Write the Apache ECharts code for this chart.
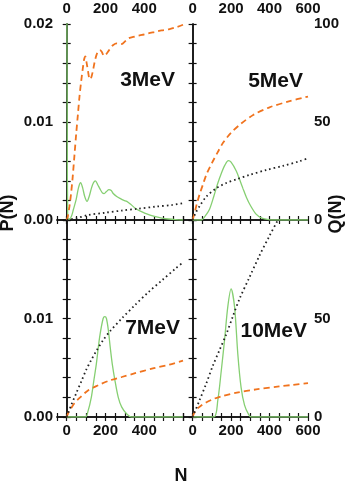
<!DOCTYPE html>
<html>
<head>
<meta charset="utf-8">
<script src="https://cdn.jsdelivr.net/npm/echarts@6/dist/echarts.min.js"></script>
<style>
  html, body { margin: 0; padding: 0; background: #fff; }
  #chart { width: 346px; height: 485px; }
</style>
</head>
<body>
<div id="chart"></div>
<script>
// panel names
var panelNames = ['3MeV', '5MeV', '7MeV', '10MeV'];

// green solid: P(N)  [N, P]
var green3 = [[0, 0.03], [3, 0.008], [5, 0.0006], [9, 0.0001], [15, 0.0001], [25, 0.0004], [35, 0.0011], [49, 0.0021], [61, 0.0033], [72, 0.0038], [82, 0.0033], [93, 0.0024], [105, 0.0019], [116, 0.0024], [127, 0.0032], [138, 0.0038], [148, 0.0040], [160, 0.0036], [171, 0.0032], [183, 0.0028], [193, 0.0027], [205, 0.0029], [218, 0.0031], [230, 0.0030], [240, 0.0027], [258, 0.0024], [275, 0.0022], [295, 0.0020], [310, 0.0019], [330, 0.0016], [354, 0.0012], [380, 0.0009], [406, 0.00068], [430, 0.0005], [458, 0.00034], [490, 0.0002], [527, 0.0001], [560, 0.00004], [600, 0]];
var green5 = [[0, 0], [45, 0], [65, 0.0004], [88, 0.0011], [110, 0.0024], [130, 0.0037], [150, 0.0048], [168, 0.0056], [186, 0.00605], [200, 0.0059], [227, 0.005], [245, 0.0041], [262, 0.0032], [280, 0.0023], [300, 0.0015], [330, 0.0006], [360, 0.0002], [400, 0.00002], [420, 0], [600, 0]];
var green7 = [[0, 0], [96, 0], [110, 0.0006], [127, 0.002], [140, 0.0037], [153, 0.0054], [170, 0.0081], [188, 0.0100], [197, 0.0102], [205, 0.0100], [215, 0.0088], [225, 0.0070], [235, 0.0054], [249, 0.0037], [266, 0.002], [284, 0.001], [310, 0.0003], [333, 0], [600, 0]];
var green10 = [[0, 0], [110, 0], [131, 0.0017], [149, 0.0047], [166, 0.0078], [183, 0.0112], [200, 0.013], [218, 0.0112], [235, 0.0064], [252, 0.003], [270, 0.0012], [290, 0.0003], [305, 0], [600, 0]];

// orange dashed: Q(N)  [N, Q]
var orange3 = [[0, 0], [5, 1.5], [14, 6.8], [22, 13], [31, 22], [40, 33], [49, 44], [58, 54], [66, 63], [75, 71], [84, 78], [90, 82], [96, 83.5], [103, 80], [110, 76], [116, 72.5], [122, 71.8], [129, 73.5], [136, 76.5], [145, 81], [153, 84], [162, 86], [171, 86.7], [180, 86], [187, 84.5], [193, 83.7], [203, 84.5], [214, 86], [228, 88], [240, 89.3], [258, 90.1], [284, 89.8], [300, 91], [319, 92.7], [350, 93.6], [388, 94.4], [420, 95.2], [458, 96], [490, 96.7], [527, 97.3], [570, 98.5], [600, 99.6]];
var orange5 = [[0, 0], [10, 3.5], [20, 7.5], [36, 13], [55, 18.5], [73, 23.5], [100, 29], [130, 34.5], [159, 39.5], [200, 44.5], [250, 49], [315, 53.6], [400, 57.5], [500, 60.5], [600, 63]];
var orange7 = [[0, 0], [10, 2.5], [20, 4], [40, 7], [70, 10], [110, 13.5], [160, 16], [220, 18.5], [284, 20.3], [345, 22], [450, 24.8], [530, 26.6], [600, 28.6]];
var orange10 = [[0, 0], [8, 2], [20, 3.8], [40, 5.5], [70, 7.4], [110, 9.2], [150, 10.5], [230, 12.4], [330, 14], [450, 15.5], [520, 16.3], [600, 17.2]];

// black dotted: Q(N)  [N, Q]
var black3 = [[0, 0], [50, 0.9], [110, 2.5], [197, 3.7], [284, 4.8], [371, 5.8], [458, 6.8], [545, 7.7], [600, 8.6]];
var black5 = [[0, 0], [15, 3.5], [36, 7], [71, 11.9], [123, 16.2], [175, 18.9], [227, 20.7], [296, 23], [382, 25.5], [469, 27.6], [556, 30], [600, 31.5]];
var black7 = [[0, 0], [23, 6], [49, 12], [75, 18], [101, 24], [127, 29], [153, 33.5], [188, 39], [223, 43.5], [284, 50], [354, 57], [423, 63.5], [493, 69.5], [562, 75.4], [600, 78.5]];
var black10 = [[0, 0], [36, 8.5], [71, 17], [105, 26], [140, 34], [175, 42], [209, 51], [244, 60], [296, 71], [348, 82], [400, 92], [443, 100], [480, 108]];

// tick labels
var nLabels = [0, 200, 400, 600];
var pLabels = [0, 0.01, 0.02];
var qLabels = [0, 50, 100];

var greens = [green3, green5, green7, green10];
var oranges = [orange3, orange5, orange7, orange10];
var blacks = [black3, black5, black7, black10];

var grids = [
  { left: 57, top: 24, width: 126, height: 196 },
  { left: 183, top: 24, width: 125, height: 196 },
  { left: 57, top: 220, width: 126, height: 197 },
  { left: 183, top: 220, width: 125, height: 197 }
];

var FONT = 'Liberation Sans, Arial, sans-serif';
var labelStyle = { fontFamily: FONT, fontWeight: 'bold', fontSize: 15, color: '#111' };

function has(list, v) {
  for (var i = 0; i < list.length; i++) {
    if (Math.abs(list[i] - v) < 1e-9) return true;
  }
  return false;
}

var xAxes = [], yAxes = [], series = [];

function addPanel(g) {
  var isTop = g < 2, isRight = g % 2 === 1;
  var common = {
    gridIndex: g,
    axisLine: { show: true, lineStyle: { color: '#111', width: 1.5 } },
    axisTick: { show: true, inside: true, length: 4, lineStyle: { color: '#111', width: 1.2 } },
    splitLine: { show: false }
  };
  ['bottom', 'top'].forEach(function (pos) {
    var showLab = (pos === 'top') === isTop;
    xAxes.push(Object.assign({}, common, {
      type: 'value', position: pos, min: -50, max: 600, interval: 50,
      axisLabel: Object.assign({}, labelStyle, {
        show: showLab, margin: pos === 'top' ? 8 : 6,
        showMinLabel: true, showMaxLabel: true,
        formatter: function (v) {
          if (!has(nLabels, v)) return '';
          if (v === 600 && !isRight) return '';
          return String(v);
        }
      })
    }));
  });
  yAxes.push(Object.assign({}, common, {
    type: 'value', position: 'left', min: 0, max: 0.02, interval: 0.002,
    axisLabel: Object.assign({}, labelStyle, {
      show: !isRight, margin: 4,
      showMinLabel: true, showMaxLabel: true,
      formatter: function (v) {
        if (!has(pLabels, v)) return '';
        if (!isTop && v > 0.015) return '';
        return v.toFixed(2);
      }
    })
  }));
  yAxes.push(Object.assign({}, common, {
    type: 'value', position: 'right', min: 0, max: 100, interval: 10,
    axisLabel: Object.assign({}, labelStyle, {
      show: isRight, margin: 6,
      showMinLabel: true, showMaxLabel: true,
      formatter: function (v) {
        if (!has(qLabels, v)) return '';
        if (!isTop && v > 75) return '';
        return String(v);
      }
    })
  }));

  series.push({
    type: 'line', xAxisIndex: 2 * g, yAxisIndex: 2 * g, data: greens[g],
    showSymbol: false, smooth: 0.3, clip: true,
    lineStyle: { color: '#86cf72', width: 1.3 }
  });
  series.push({
    type: 'line', xAxisIndex: 2 * g, yAxisIndex: 2 * g + 1, data: oranges[g],
    showSymbol: false, smooth: 0.3, clip: true,
    lineStyle: { color: '#f0731e', width: 1.8, type: [6, 4] }
  });
  series.push({
    type: 'line', xAxisIndex: 2 * g, yAxisIndex: 2 * g + 1, data: blacks[g],
    showSymbol: false, smooth: 0.3, clip: true,
    lineStyle: { color: '#222', width: 1.8, type: [1.6, 3] }
  });
}

for (var g = 0; g < 4; g++) addPanel(g);

var panelText = { fontFamily: 'Liberation Sans Narrow, Liberation Sans, Arial', fontWeight: 'bold', fontSize: 21, fill: '#111' };

var option = {
  animation: false,
  backgroundColor: '#fff',
  grid: grids,
  xAxis: xAxes,
  yAxis: yAxes,
  series: series,
  graphic: [
    { type: 'text', right: 171, top: 70, style: Object.assign({ text: panelNames[0] }, panelText) },
    { type: 'text', right: 43, top: 71, style: Object.assign({ text: panelNames[1] }, panelText) },
    { type: 'text', right: 166, top: 318, style: Object.assign({ text: panelNames[2] }, panelText) },
    { type: 'text', right: 39, top: 321, style: Object.assign({ text: panelNames[3] }, panelText) },
    { type: 'text', x: 8.5, y: 213, rotation: Math.PI / 2,
      style: { text: 'P(N)', fontFamily: FONT, fontWeight: 'bold', fontSize: 18, fill: '#111', align: 'center', verticalAlign: 'middle' } },
    { type: 'text', x: 336, y: 214, rotation: Math.PI / 2,
      style: { text: 'Q(N)', fontFamily: FONT, fontWeight: 'bold', fontSize: 18, fill: '#111', align: 'center', verticalAlign: 'middle' } },
    { type: 'text', x: 181, y: 476,
      style: { text: 'N', fontFamily: FONT, fontWeight: 'bold', fontSize: 18, fill: '#111', align: 'center', verticalAlign: 'middle' } }
  ]
};

var chart = echarts.init(document.getElementById('chart'), null, { renderer: 'canvas' });
chart.setOption(option);
</script>
</body>
</html>
